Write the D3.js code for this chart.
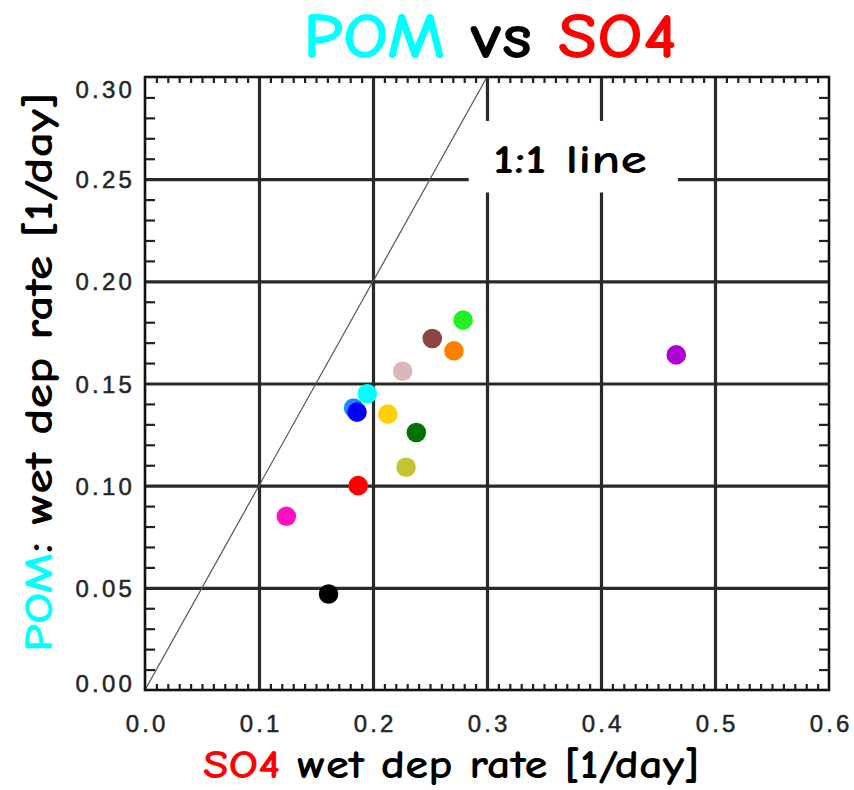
<!DOCTYPE html>
<html>
<head>
<meta charset="utf-8">
<script src="https://cdn.jsdelivr.net/npm/d3@7"></script>
<style>
  html, body { margin: 0; padding: 0; background: #fff; }
  svg { display: block; }
</style>
</head>
<body>
<svg id="chart" width="854" height="790"></svg>
<script>
// SO4 vs POM wet deposition rates per model, [1/day]
const models = ["m01","m02","m03","m04","m05","m06","m07","m08","m09","m10","m11","m12","m13","m14"];
const so4Rate = [0.161, 0.124, 0.187, 0.183, 0.186, 0.195, 0.213, 0.238, 0.229, 0.226, 0.252, 0.271, 0.279, 0.466];
const pomRate = [0.047, 0.085, 0.100, 0.138, 0.136, 0.145, 0.135, 0.126, 0.109, 0.156, 0.172, 0.166, 0.181, 0.164];
const pointColors = ["#000000", "#ff10c4", "#ff0000", "#1e88ff", "#0000ff", "#00ffff", "#ffd000",
                     "#007400", "#c4c432", "#d8b8b8", "#8c4444", "#ff8000", "#22f022", "#b000d4"];

const xTickValues = [0.0, 0.1, 0.2, 0.3, 0.4, 0.5, 0.6];
const yTickValues = [0.00, 0.05, 0.10, 0.15, 0.20, 0.25, 0.30];

const svg = d3.select("#chart");
const L = 145, R = 829, T = 77, B = 690;
const x = d3.scaleLinear().domain([0, 0.6]).range([L, R]);
const y = d3.scaleLinear().domain([0, 0.3]).range([B, T]);

const labelFont = "'Comic Sans MS', 'Comic Neue', 'DejaVu Sans', sans-serif";
const tickFont = "'Liberation Sans', Arial, Helvetica, sans-serif";

// clip for plot interior
svg.append("clipPath").attr("id", "plotClip")
  .append("rect").attr("x", L).attr("y", T).attr("width", R - L).attr("height", B - T);

// major grid lines
const gridX = svg.append("g").attr("transform", `translate(0,${B})`)
  .call(d3.axisBottom(x).tickValues(xTickValues.slice(1, -1)).tickSize(-(B - T)).tickFormat(""));
const gridY = svg.append("g").attr("transform", `translate(${L},0)`)
  .call(d3.axisLeft(y).tickValues(yTickValues.slice(1, -1)).tickSize(-(R - L)).tickFormat(""));
[gridX, gridY].forEach(g => {
  g.select(".domain").remove();
  g.selectAll("line").attr("stroke", "#2a2a2a").attr("stroke-width", 3.2);
});

// minor ticks every 0.01 on all four sides
const minorX = d3.range(1, 60).map(i => i / 100).filter(v => Math.round(v * 100) % 10 !== 0);
const minorY = d3.range(1, 30).map(i => i / 100).filter(v => Math.round(v * 100) % 5 !== 0);
const minorAxes = [
  svg.append("g").attr("transform", `translate(0,${B})`).call(d3.axisTop(x).tickValues(minorX).tickSize(6).tickFormat("")),
  svg.append("g").attr("transform", `translate(0,${T})`).call(d3.axisBottom(x).tickValues(minorX).tickSize(6).tickFormat("")),
  svg.append("g").attr("transform", `translate(${L},0)`).call(d3.axisRight(y).tickValues(minorY).tickSize(10).tickFormat("")),
  svg.append("g").attr("transform", `translate(${R},0)`).call(d3.axisLeft(y).tickValues(minorY).tickSize(10).tickFormat(""))
];
minorAxes.forEach(g => {
  g.select(".domain").remove();
  g.selectAll("line").attr("stroke", "#222").attr("stroke-width", 2.2);
});

// 1:1 reference line
svg.append("line")
  .attr("clip-path", "url(#plotClip)")
  .attr("x1", x(0)).attr("y1", y(0)).attr("x2", x(0.3)).attr("y2", y(0.3))
  .attr("stroke", "#555").attr("stroke-width", 1.2);

// label box for the 1:1 line
svg.append("rect")
  .attr("x", x(0.284)).attr("y", y(0.2785))
  .attr("width", x(0.4675) - x(0.284)).attr("height", y(0.2435) - y(0.2785))
  .attr("fill", "#fff");

// frame
svg.append("rect").attr("x", L).attr("y", T).attr("width", R - L).attr("height", B - T)
  .attr("fill", "none").attr("stroke", "#111").attr("stroke-width", 2.6);

// points
svg.append("g").selectAll("circle")
  .data(models.map((m, i) => ({ m, sx: so4Rate[i], py: pomRate[i], c: pointColors[i] })))
  .join("circle")
  .attr("cx", d => x(d.sx)).attr("cy", d => y(d.py)).attr("r", 9.8)
  .attr("fill", d => d.c);

// tick labels
const xLab = svg.append("g").attr("transform", `translate(0,${B})`)
  .call(d3.axisBottom(x).tickValues(xTickValues).tickSize(0).tickPadding(0).tickFormat(d3.format(".1f")));
xLab.select(".domain").remove();
xLab.selectAll("text")
  .attr("y", 42).attr("dy", null)
  .attr("font-family", tickFont).attr("font-size", 24).attr("fill", "#262626")
  .attr("stroke", "#262626").attr("stroke-width", 0.5)
  .attr("letter-spacing", 3.2).attr("dx", 1.6);

const yLab = svg.append("g").attr("transform", `translate(${L},0)`)
  .call(d3.axisLeft(y).tickValues(yTickValues).tickSize(0).tickPadding(0).tickFormat(d3.format(".2f")));
yLab.select(".domain").remove();
yLab.selectAll("text")
  .attr("x", -10).attr("dy", "0.36em")
  .attr("font-family", tickFont).attr("font-size", 24).attr("fill", "#262626")
  .attr("stroke", "#262626").attr("stroke-width", 0.5)
  .attr("letter-spacing", 3.2)
  .attr("transform", d => d === 0.3 ? "translate(0,12)" : d === 0 ? "translate(0,-7)" : null);

// helper: place a text group, stretched horizontally to a given width
function fitText(parts, size, cx, baseline, width, rotate) {
  const g = svg.append("g");
  const t = g.append("text")
    .attr("font-family", labelFont).attr("font-weight", "bold").attr("font-size", size);
  parts.forEach(p => t.append("tspan").text(p.text).attr("fill", p.fill));
  const w = t.node().getComputedTextLength();
  const k = width / w;
  if (rotate) {
    g.attr("transform", `translate(${cx},${baseline}) rotate(-90) translate(${-width / 2},0) scale(${k},1)`);
  } else {
    g.attr("transform", `translate(${cx - width / 2},${baseline}) scale(${k},1)`);
  }
  return g;
}

// title
fitText([{ text: "POM", fill: "#00ffff" }, { text: " vs ", fill: "#000" }, { text: "SO4", fill: "#ff0000" }],
        64, 490, 58, 374, false);

// axis titles
fitText([{ text: "SO4", fill: "#ff0000" }, { text: " wet dep rate [1/day]", fill: "#000" }],
        40, 451.5, 778, 497, false);
fitText([{ text: "POM", fill: "#00ffff" }, { text: ": wet dep rate [1/day]", fill: "#000" }],
        40, 52, 372, 560, true);

// 1:1 line label
fitText([{ text: "1:1 line", fill: "#000" }], 40, 570, 173, 154, false);
</script>
</body>
</html>
